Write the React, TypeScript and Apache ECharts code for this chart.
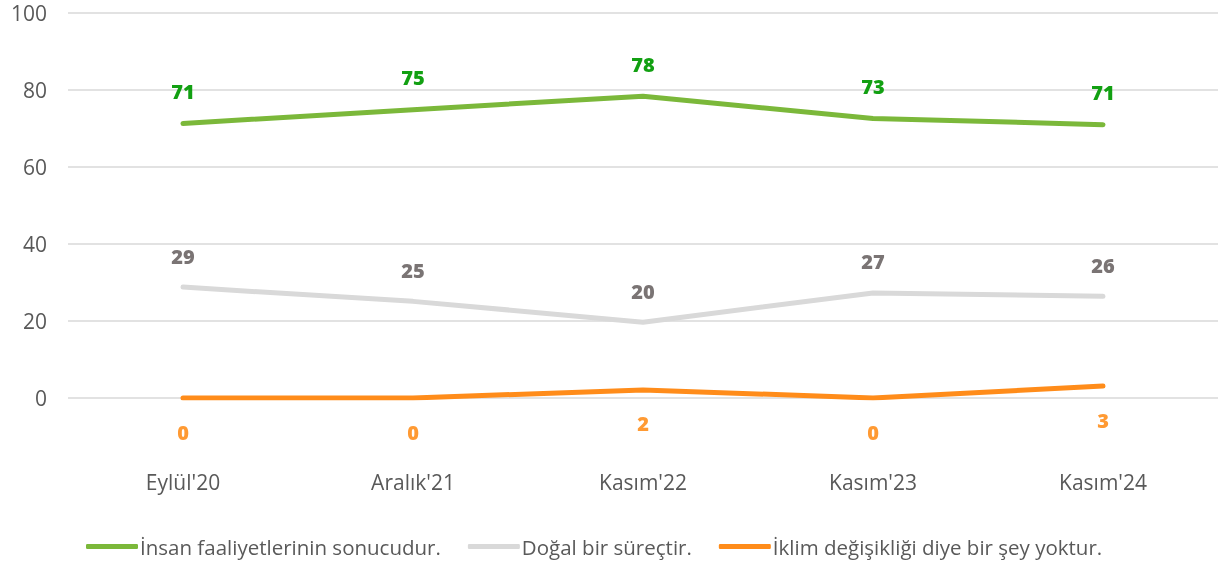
import React, { useEffect, useRef } from "react";
import * as echarts from "echarts";

const categories = ["Eylül'20", "Aralık'21", "Kasım'22", "Kasım'23", "Kasım'24"];
const seriesNames = [
  "İnsan faaliyetlerinin sonucudur.",
  "Doğal bir süreçtir.",
  "İklim değişikliği diye bir şey yoktur.",
];
const humanValues = [71.3, 74.9, 78.4, 72.6, 71.0];
const naturalValues = [28.8, 25.1, 19.7, 27.3, 26.4];
const noneValues = [0, 0, 2.1, 0, 3.1];
const yTicks = [0, 20, 40, 60, 80, 100];

const FONT = "Open Sans";

export default function App() {
  const ref = useRef<HTMLDivElement>(null);
  useEffect(() => {
    if (!ref.current) return;
    const chart = echarts.init(ref.current, undefined, { renderer: "svg" });
    const lineSeries = (name: string, data: number[], color: string, labelColor: string, pos: "top" | "bottom", dist: number) => ({
      name,
      type: "line",
      data,
      symbol: "circle",
      symbolSize: 0,
      showSymbol: true,
      lineStyle: { color, width: 5, cap: "round", join: "round" },
      itemStyle: { color },
      label: {
        show: true,
        position: pos,
        distance: dist,
        color: labelColor,
        fontFamily: FONT,
        fontWeight: 800,
        fontSize: 20,
        formatter: (p: any) => String(Math.round(p.value)),
      },
    });
    chart.setOption({
      animation: false,
      textStyle: { fontFamily: FONT },
      grid: { left: 68, right: 6, top: 13, bottom: 170, containLabel: false },
      xAxis: {
        type: "category",
        data: categories,
        boundaryGap: true,
        axisLine: { show: false },
        axisTick: { show: false },
        axisLabel: { color: "#595959", fontSize: 21, fontFamily: FONT, margin: 73 },
      },
      yAxis: {
        type: "value",
        min: yTicks[0],
        max: yTicks[yTicks.length - 1],
        interval: 20,
        axisLine: { show: false },
        axisTick: { show: false },
        axisLabel: { color: "#595959", fontSize: 21, lineHeight: 22, fontFamily: FONT, margin: 21 },
        splitLine: { lineStyle: { color: "#d9d9d9", width: 1.5 } },
      },
      legend: {
        bottom: 6,
        left: 81,
        itemWidth: 52,
        itemHeight: 5,
        itemGap: 27,
        icon: "roundRect",
        textStyle: { color: "#595959", fontSize: 20.5, fontFamily: FONT, padding: [0, 0, 0, -3] },
        data: seriesNames,
      },
      series: [
        lineSeries(seriesNames[0], humanValues, "#7bb83a", "#12a012", "top", 22),
        lineSeries(seriesNames[1], naturalValues, "#d9d9d9", "#7a7474", "top", 21),
        lineSeries(seriesNames[2], noneValues, "#ff8c1a", "#ff9a33", "bottom", 24),
      ],
    });
    return () => chart.dispose();
  }, []);
  return <div ref={ref} style={{ position: "fixed", left: 0, top: 0, width: 1224, height: 568 }} />;
}
